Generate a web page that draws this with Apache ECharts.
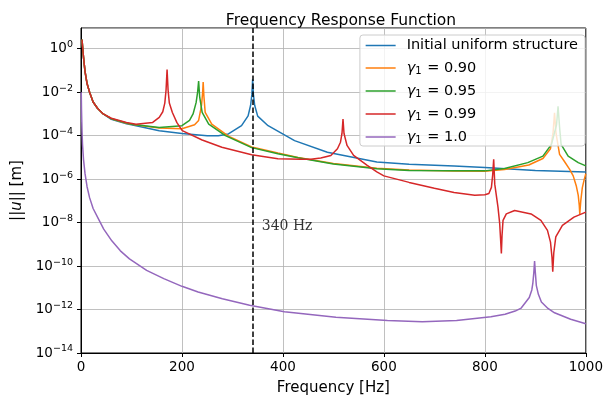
<!DOCTYPE html>
<html>
<head>
<meta charset="utf-8">
<script src="https://cdn.jsdelivr.net/npm/echarts@6/dist/echarts.min.js"></script>
<style>
  html, body { margin: 0; padding: 0; background: #ffffff; }
  #chart { width: 606px; height: 401px; }
</style>
</head>
<body>
<div id="chart"></div>
<script>
// Frequency response |u| (m) of the structure for several gamma_1 values.
const resonanceHz = 340;
const resonanceLabelPos = [358, 6.6e-9];

const seriesNames = [
  'Initial uniform structure',
  'γ1 = 0.90',
  'γ1 = 0.95',
  'γ1 = 0.99',
  'γ1 = 1.0'
];

// Low-frequency branch shared by the first four responses
const sharedFreq = [2, 3.5, 5, 8, 12, 17, 24, 33, 44];
const sharedAmp  = [2.63, 1.0, 0.398, 8.91e-2, 2.51e-2, 1.0e-2, 3.55e-3, 1.78e-3, 1.0e-3];

// Initial uniform structure
const uniformFreq = [60, 90, 100, 155, 200, 250, 272, 292, 318, 331, 336, 338.5, 340, 341.5, 344, 350, 370.6, 423, 488, 586, 650, 739, 800, 900, 1000];
const uniformAmp  = [5.62e-4, 3.55e-4, 3.16e-4, 1.70e-4, 1.26e-4, 1.0e-4, 1.0e-4, 1.20e-4, 2.88e-4, 8.13e-4, 2.51e-3, 7.94e-3, 3.89e-2, 7.94e-3, 2.51e-3, 7.94e-4, 2.88e-4, 5.89e-5, 1.74e-5, 6.17e-6, 4.79e-6, 4.07e-6, 3.47e-6, 2.51e-6, 2.14e-6];

// gamma_1 = 0.90
const g090Freq = [60, 90, 100, 155, 200, 225, 233, 238.6, 241, 242, 243.5, 246, 259, 292, 338, 390, 430, 500, 586, 650, 739, 800, 839, 887, 915, 930, 935, 938, 941, 948, 958, 968, 975, 981, 985, 987, 988, 990, 993, 997, 1000];
const g090Amp  = [6.03e-4, 3.72e-4, 3.31e-4, 2.24e-4, 2.09e-4, 3.16e-4, 5.01e-4, 2.34e-3, 1.0e-2, 2.95e-2, 6.31e-3, 1.17e-3, 3.39e-4, 9.55e-5, 3.02e-5, 1.58e-5, 1.0e-5, 5.25e-6, 3.16e-6, 2.63e-6, 2.34e-6, 2.29e-6, 2.75e-6, 4.47e-6, 8.91e-6, 2.51e-5, 1.26e-4, 1.12e-3, 1.26e-4, 1.38e-5, 6.31e-6, 2.82e-6, 1.41e-6, 5.01e-7, 1.78e-7, 6.31e-8, 2.51e-8, 1.0e-7, 3.98e-7, 1.0e-6, 1.78e-6];

// gamma_1 = 0.95
const g095Freq = [60, 90, 100, 155, 200, 215, 222, 228, 231, 233, 235, 240, 253, 286, 338, 390, 430, 500, 586, 650, 739, 800, 839, 885, 915, 932, 942, 945, 948, 951, 965, 985, 1000];
const g095Amp  = [6.03e-4, 3.80e-4, 3.39e-4, 2.40e-4, 2.88e-4, 5.01e-4, 1.0e-3, 3.31e-3, 1.0e-2, 3.24e-2, 6.31e-3, 1.17e-3, 3.39e-4, 1.0e-4, 2.82e-5, 1.48e-5, 9.55e-6, 5.01e-6, 3.02e-6, 2.51e-6, 2.40e-6, 2.40e-6, 3.09e-6, 5.75e-6, 1.15e-5, 3.98e-5, 3.16e-4, 2.24e-3, 2.51e-4, 3.98e-5, 1.15e-5, 5.75e-6, 4.07e-6];

// gamma_1 = 0.99
const g099Freq = [60, 90, 109, 142, 155, 162, 166, 168.5, 170.5, 172.5, 175, 181, 190, 200.6, 240, 279, 338, 390, 436, 455, 475, 495, 508, 514, 517, 519, 521, 527, 540, 567, 586, 600, 650, 700, 739, 780, 800, 808, 813, 815.5, 817.5, 819.6, 826, 829.4, 831, 832.7, 834, 836, 842.5, 859, 891.5, 911, 924, 930, 933, 934.5, 936.5, 940.5, 953.6, 976.5, 1000];
const g099Amp  = [6.31e-4, 4.07e-4, 3.39e-4, 4.07e-4, 6.92e-4, 1.26e-3, 3.16e-3, 1.26e-2, 1.10e-1, 1.26e-2, 3.16e-3, 1.17e-3, 3.98e-4, 1.70e-4, 6.31e-5, 2.95e-5, 1.32e-5, 8.71e-6, 8.13e-6, 8.13e-6, 9.33e-6, 1.23e-5, 2.51e-5, 5.01e-5, 1.26e-4, 5.75e-4, 1.26e-4, 3.55e-5, 1.23e-5, 4.27e-6, 2.14e-6, 1.41e-6, 7.08e-7, 3.80e-7, 2.45e-7, 1.82e-7, 1.91e-7, 2.19e-7, 4.17e-7, 1.58e-6, 8.13e-6, 5.89e-7, 5.13e-8, 8.91e-9, 2.0e-9, 3.80e-10, 2.51e-9, 1.26e-8, 2.51e-8, 3.63e-8, 2.51e-8, 1.26e-8, 4.37e-9, 1.26e-9, 2.51e-10, 5.50e-11, 3.98e-10, 2.19e-9, 7.41e-9, 1.78e-8, 3.02e-8];

// gamma_1 = 1.0
const g100Freq = [0.5, 1, 2, 3, 5, 8, 12, 17, 24, 34, 45, 61, 78, 96, 130, 164, 200, 232, 280, 334, 403, 505, 607, 676, 744, 812, 840, 860, 872, 888, 893, 895, 897, 898.5, 900, 902, 906, 912, 925, 938, 970, 1000];
const g100Amp  = [1.0e-2, 1.58e-3, 1.58e-4, 3.98e-5, 7.94e-6, 1.78e-6, 4.47e-7, 1.41e-7, 4.47e-8, 1.58e-8, 5.01e-9, 1.45e-9, 5.01e-10, 2.14e-10, 6.31e-11, 2.63e-11, 1.17e-11, 6.46e-12, 3.16e-12, 1.58e-12, 7.94e-13, 4.37e-13, 3.09e-13, 2.75e-13, 3.09e-13, 4.68e-13, 6.03e-13, 8.51e-13, 1.17e-12, 3.55e-12, 7.94e-12, 1.58e-11, 5.01e-11, 1.70e-10, 5.01e-11, 1.26e-11, 5.01e-12, 2.24e-12, 1.12e-12, 7.08e-13, 3.55e-13, 2.24e-13];

const colors = ['#1f77b4', '#ff7f0e', '#2ca02c', '#d62728', '#9467bd'];

function zip(freq, amp) {
  return freq.map((f, i) => [f, amp[i]]);
}

const curves = [
  zip(sharedFreq.concat(uniformFreq), sharedAmp.concat(uniformAmp)),
  zip(sharedFreq.concat(g090Freq), sharedAmp.concat(g090Amp)),
  zip(sharedFreq.concat(g095Freq), sharedAmp.concat(g095Amp)),
  zip(sharedFreq.concat(g099Freq), sharedAmp.concat(g099Amp)),
  zip(g100Freq, g100Amp)
];

const FONT = 'DejaVu Sans';

function powerLabel(v) {
  const e = Math.log10(v);
  const r = Math.round(e);
  if (Math.abs(e - r) > 1e-6) return '';
  const exp = r < 0 ? '\u2212' + (-r) : String(r);
  return '{b|10}{s|' + exp + '}';
}

function legendLabel(name) {
  const m = name.match(/^γ1 = (.*)$/);
  if (m) return '{sp|}{g|γ}{sub|1}{t| = ' + m[1] + '}';
  return '{sp|}{t|' + name + '}';
}

const series = curves.map((data, i) => ({
  name: seriesNames[i],
  type: 'line',
  data: data,
  symbol: 'none',
  showSymbol: false,
  clip: true,
  lineStyle: { color: colors[i], width: 1.5 },
  itemStyle: { color: colors[i] },
  emphasis: { disabled: true },
  animation: false
}));

// Vertical marker at the first resonance of the uniform structure
series[0].markLine = {
  silent: true,
  symbol: 'none',
  animation: false,
  label: { show: false },
  lineStyle: { color: '#000000', type: [5.5, 2.5], width: 1.5 },
  data: [{ xAxis: resonanceHz }]
};

series.push({
  name: 'annotation',
  type: 'scatter',
  data: [resonanceLabelPos],
  symbolSize: 0,
  silent: true,
  animation: false,
  label: {
    show: true,
    position: 'right',
    distance: 0,
    formatter: resonanceHz + ' Hz',
    fontFamily: 'DejaVu Serif',
    fontSize: 14,
    color: '#000000'
  }
});

const chart = echarts.init(document.getElementById('chart'), null, { renderer: 'canvas' });

chart.setOption({
  animation: false,
  backgroundColor: '#ffffff',
  title: {
    text: 'Frequency Response Function',
    left: 336,
    top: 8,
    textAlign: 'center',
    textStyle: { fontFamily: FONT, fontSize: 15.5, fontWeight: 'normal', color: '#000000' }
  },
  grid: {
    left: 81, right: 15, top: 28, bottom: 45,
    show: true, borderColor: '#000000', borderWidth: 1, backgroundColor: 'transparent',
    containLabel: false
  },
  legend: {
    data: seriesNames,
    orient: 'vertical',
    right: 21,
    top: 35,
    padding: [3, 7, 1, 5],
    itemGap: 7.5,
    itemWidth: 30,
    itemHeight: 16,
    backgroundColor: 'rgba(255,255,255,0.8)',
    borderColor: '#cccccc',
    borderWidth: 1,
    borderRadius: 3,
    selectedMode: false,
    itemStyle: { color: 'transparent', borderColor: 'transparent', borderWidth: 0, opacity: 0 },
    lineStyle: { width: 1.5 },
    formatter: legendLabel,
    textStyle: {
      fontFamily: FONT, fontSize: 14.5, color: '#000000',
      rich: {
        sp: { width: 6 },
        t: { fontFamily: FONT, fontSize: 14.5, lineHeight: 16, color: '#000000' },
        g: { fontFamily: FONT, fontSize: 14.5, lineHeight: 16, fontStyle: 'italic', color: '#000000' },
        sub: { fontFamily: FONT, fontSize: 10, color: '#000000', padding: [6, 1, 0, 0] }
      }
    }
  },
  xAxis: {
    type: 'value',
    min: 0,
    max: 1000,
    interval: 200,
    name: 'Frequency [Hz]',
    nameLocation: 'middle',
    nameGap: 28,
    nameTextStyle: { fontFamily: FONT, fontSize: 15, color: '#000000' },
    axisLine: { show: true, onZero: false, lineStyle: { color: '#000000', width: 1 } },
    axisTick: { show: true, length: 4, lineStyle: { color: '#000000', width: 1 } },
    axisLabel: {
      fontFamily: FONT, fontSize: 13.5, color: '#000000', margin: 7,
      formatter: (v) => String(v)
    },
    splitLine: { show: true, lineStyle: { color: '#b0b0b0', width: 0.8 } }
  },
  yAxis: {
    type: 'log',
    logBase: 10,
    min: 1e-14,
    max: 9,
    interval: 2,
    name: '||{i|u}|| [m]',
    nameLocation: 'middle',
    nameGap: 49,
    nameRotate: 90,
    nameTextStyle: {
      fontFamily: FONT, fontSize: 15, color: '#000000',
      rich: { i: { fontFamily: FONT, fontSize: 15, fontStyle: 'italic', color: '#000000' } }
    },
    axisLine: { show: true, lineStyle: { color: '#000000', width: 1 } },
    axisTick: { show: true, length: 4, lineStyle: { color: '#000000', width: 1 } },
    axisLabel: {
      fontFamily: FONT, color: '#000000', margin: 8,
      showMaxLabel: false,
      formatter: powerLabel,
      rich: {
        b: { fontFamily: FONT, fontSize: 13.5, color: '#000000' },
        s: { fontFamily: FONT, fontSize: 9.5, color: '#000000', padding: [0, 0, 8, 0] }
      }
    },
    splitLine: { show: true, lineStyle: { color: '#b0b0b0', width: 0.8 } }
  },
  series: series
});
</script>
</body>
</html>
